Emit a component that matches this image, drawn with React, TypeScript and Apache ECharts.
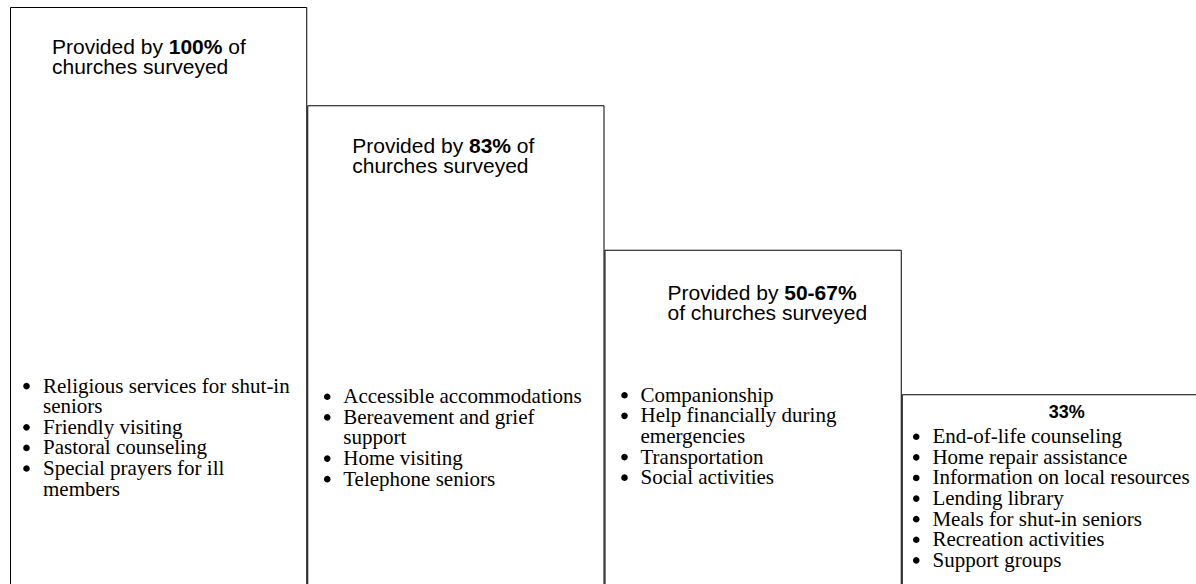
import React, { useEffect, useRef } from "react";
import * as echarts from "echarts";

// ---- data ----
const categories = ["100%", "83%", "50-67%", "33%"];
const shareValues = [100, 83, 58, 33];
const headers = [
  "Provided by {b|100%} of\nchurches surveyed",
  "Provided by {b|83%} of\nchurches surveyed",
  "Provided by {b|50-67%}\nof churches surveyed",
  "{b|33%}",
];
const services100 = [
  "Religious services for shut-in\nseniors",
  "Friendly visiting",
  "Pastoral counseling",
  "Special prayers for ill\nmembers",
];
const services83 = [
  "Accessible accommodations",
  "Bereavement and grief\nsupport",
  "Home visiting",
  "Telephone seniors",
];
const services50to67 = [
  "Companionship",
  "Help financially during\nemergencies",
  "Transportation",
  "Social activities",
];
const services33 = [
  "End-of-life counseling",
  "Home repair assistance",
  "Information on local resources",
  "Lending library",
  "Meals for shut-in seniors",
  "Recreation activities",
  "Support groups",
];
const serviceLists = [services100, services83, services50to67, services33];

// ---- layout (offsets relative to each bar's left edge / top) ----
const headerLayout = [
  { dx: 42, cy: 39, align: "left", size: 21 },
  { dx: 45, cy: 40, align: "left", size: 21 },
  { dx: 63, cy: 43, align: "left", size: 21 },
  { dx: 165, cy: 18, align: "center", size: 18 },
];
const listLayout = [
  { bx: 16.5, tx: 33, cy: 378.6 },
  { bx: 20, tx: 36, cy: 291 },
  { bx: 20, tx: 36, cy: 145 },
  { bx: 14.5, tx: 30.7, cy: 42 },
];
const SANS = "Liberation Sans, Arial, sans-serif";
const SERIF = "Liberation Serif, Times New Roman, serif";
const HEAD_LH = 20;
const LIST_LH = 20.6;
const LIST_SIZE = 21;
const BULLET_R = 3.3;

export default function App() {
  const ref = useRef<HTMLDivElement>(null);
  useEffect(() => {
    if (!ref.current) return;
    const chart = echarts.init(ref.current, null, { renderer: "svg" });
    chart.setOption({
      animation: false,
      backgroundColor: "#fff",
      grid: {
        left: 10,
        top: 7,
        width: 1189,
        height: 578,
        containLabel: false,
        outerBoundsMode: "none",
      },
      xAxis: {
        type: "category",
        data: categories,
        show: false,
      },
      yAxis: { type: "value", min: 0, max: 100, show: false },
      series: [
        {
          type: "bar",
          data: shareValues,
          barCategoryGap: "0%",
          itemStyle: { color: "#fff", borderColor: "#000", borderWidth: 1 },
          silent: true,
        },
      ],
    });

    const p0 = chart.convertToPixel({ seriesIndex: 0 }, [0, 0]) as number[];
    const p1 = chart.convertToPixel({ seriesIndex: 0 }, [1, 0]) as number[];
    const band = p1[0] - p0[0];
    const elements: any[] = [];
    shareValues.forEach((v, i) => {
      const pt = chart.convertToPixel({ seriesIndex: 0 }, [i, v]) as number[];
      const left = pt[0] - band / 2;
      const top = pt[1];
      const h = headerLayout[i];
      elements.push({
        type: "text",
        x: left + h.dx,
        y: top + h.cy - HEAD_LH / 2,
        z: 100,
        silent: true,
        style: {
          text: headers[i],
          fontFamily: SANS,
          fontSize: h.size,
          lineHeight: HEAD_LH,
          fill: "#000",
          align: h.align,
          verticalAlign: "top",
          rich: {
            b: {
              fontFamily: SANS,
              fontSize: h.size,
              fontWeight: "bold",
              lineHeight: HEAD_LH,
              fill: "#000",
            },
          },
        },
      });
      const items = serviceLists[i];
      const l = listLayout[i];
      let line = 0;
      items.forEach((it) => {
        elements.push({
          type: "circle",
          z: 100,
          silent: true,
          shape: {
            cx: left + l.bx,
            cy: top + l.cy + line * LIST_LH + 0.5,
            r: BULLET_R,
          },
          style: { fill: "#000" },
        });
        line += it.split("\n").length;
      });
      elements.push({
        type: "text",
        x: left + l.tx,
        y: top + l.cy - LIST_LH / 2,
        z: 100,
        silent: true,
        style: {
          text: items.join("\n"),
          fontFamily: SERIF,
          fontSize: LIST_SIZE,
          lineHeight: LIST_LH,
          fill: "#000",
          align: "left",
          verticalAlign: "top",
        },
      });
    });
    chart.setOption({ graphic: { elements } });
    return () => chart.dispose();
  }, []);
  return (
    <div
      ref={ref}
      style={{ position: "absolute", left: 0, top: 0, width: 1196, height: 584 }}
    />
  );
}
